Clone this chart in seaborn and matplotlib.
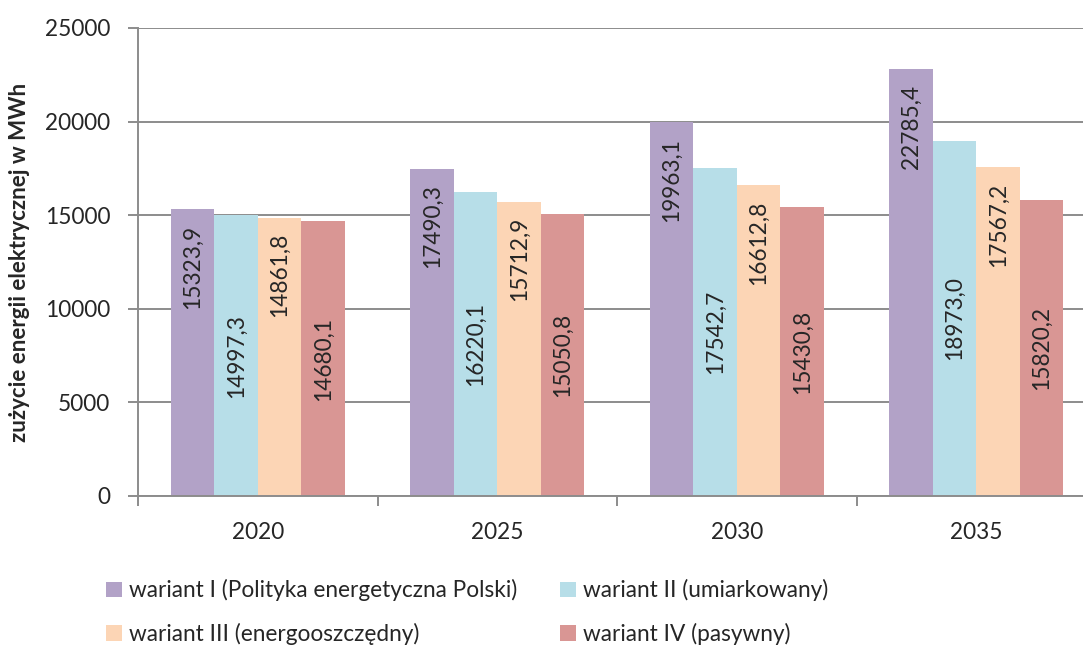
import matplotlib
matplotlib.use("Agg")
import matplotlib.pyplot as plt
import seaborn as sns
import pandas as pd
from matplotlib.patches import Patch

# data
years = ["2020", "2025", "2030", "2035"]
variants = ["wariant I (Polityka energetyczna Polski)",
            "wariant II (umiarkowany)",
            "wariant III (energooszczędny)",
            "wariant IV (pasywny)"]
v1 = [15323.9, 17490.3, 19963.1, 22785.4]
v2 = [14997.3, 16220.1, 17542.7, 18973.0]
v3 = [14861.8, 15712.9, 16612.8, 17567.2]
v4 = [14680.1, 15050.8, 15430.8, 15820.2]
colors = ["#B2A2C7", "#B7DEE8", "#FCD5B5", "#D99694"]
# label placement per series: inside end or center
label_pos = ["end", "center", "end", "center"]

rows = []
for name, vals in zip(variants, [v1, v2, v3, v4]):
    for y, v in zip(years, vals):
        rows.append({"rok": y, "wartosc": v, "wariant": name})
df = pd.DataFrame(rows)

sns.set_theme(style="white")
plt.rcParams['font.family'] = ['Lato', 'DejaVu Sans']
fs = 16.3

fig = plt.figure(figsize=(10.83, 6.46), dpi=100)
ax = fig.add_axes([138/1083, 150/646, 958/1083, 468/646])

sns.barplot(data=df, x="rok", y="wartosc", hue="wariant", palette=colors,
            width=0.727, saturation=1, edgecolor="none", linewidth=0,
            legend=False, ax=ax, zorder=2)

# value labels, rotated like in the original
for cont, pos in zip(ax.containers, label_pos):
    for bar in cont:
        h = bar.get_height()
        cx = bar.get_x() + bar.get_width() / 2
        txt = f"{h:.1f}".replace(".", ",")
        if pos == "end":
            ax.annotate(txt, (cx, h), xytext=(0, -11), textcoords="offset points",
                        rotation=90, ha="center", va="top", fontsize=fs, zorder=3)
        else:
            ax.text(cx, h / 2, txt, rotation=90, ha="center", va="center",
                    fontsize=fs, zorder=3)

grid_c = "#8C8C8C"
ax.set_ylim(0, 25000)
ax.set_xlim(-0.5, 3.5)
ax.set_yticks(range(0, 25001, 5000))
ax.yaxis.grid(True, color=grid_c, linewidth=1.4)
ax.set_axisbelow(True)
for s in ["top", "right"]:
    ax.spines[s].set_visible(False)
for s in ["left", "bottom"]:
    ax.spines[s].set_color(grid_c)
    ax.spines[s].set_linewidth(1.4)

ax.tick_params(axis="y", length=7, width=1.4, color=grid_c, pad=13,
               labelsize=fs, left=True)
ax.set_xticks([-0.5, 0.5, 1.5, 2.5, 3.5], minor=True)
ax.tick_params(axis="x", which="minor", length=7, width=1.4, color=grid_c,
               bottom=True)
ax.tick_params(axis="x", which="major", length=0, pad=19, labelsize=fs)
ax.set_xlabel("")
ax.set_ylabel("zużycie energii elektrycznej w MWh", fontsize=16,
              fontweight="bold")
ax.yaxis.set_label_coords(-0.113, 0.5)

# matplotlib fills legend columns first, so reorder to get I, II in row one
order = [0, 2, 1, 3]
handles = [Patch(facecolor=colors[i], edgecolor="none") for i in order]
labels = [variants[i] for i in order]
fig.legend(handles, labels, ncol=2, loc="upper left",
           bbox_to_anchor=(95/1083, 1 - 568/646), frameon=False,
           fontsize=fs, handlelength=0.7, handleheight=0.7,
           handletextpad=0.3, columnspacing=1.9, labelspacing=0.95,
           borderpad=0)

fig.savefig("out.png", dpi=100)
